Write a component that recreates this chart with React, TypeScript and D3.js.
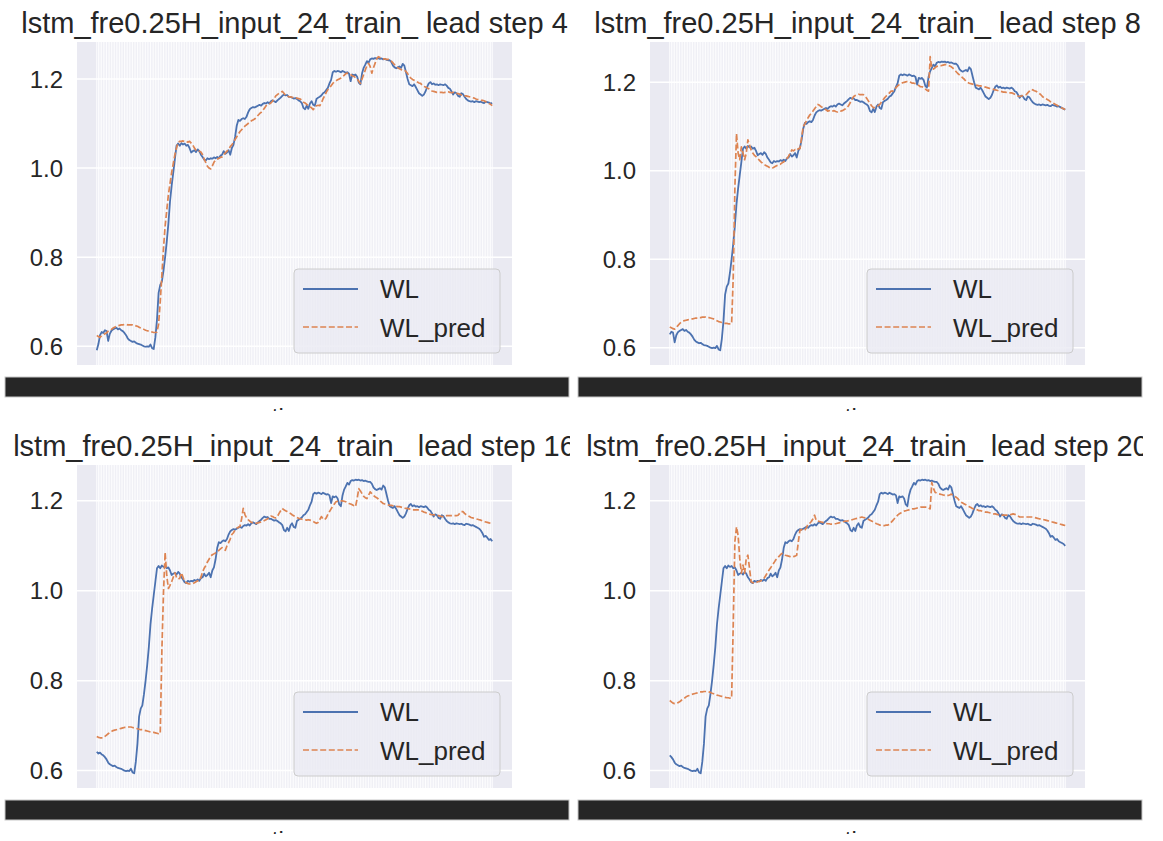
import React from "react";
import * as d3 from "d3";

// ---------------- data ----------------
const N = 244;
const leads = [4, 8, 16, 20];
const yTicks = [0.6, 0.8, 1.0, 1.2];
const titlePrefix = "lstm_fre0.25H_input_24_train_ lead step ";
const legendLabels = ["WL", "WL_pred"];
const xLabel = "time";

// observed water level; panel with lead L shows wlBase[L-4 .. L-4+N-1]
const wlBase = [
  0.591,0.605,0.625,0.632,0.630,0.636,0.634,0.612,0.628,0.635,
  0.638,0.640,0.642,0.638,0.640,0.636,0.634,0.630,0.625,0.618,
  0.614,0.612,0.610,0.611,0.608,0.606,0.605,0.604,0.602,0.600,
  0.599,0.600,0.599,0.604,0.596,0.594,0.620,0.660,0.720,0.738,
  0.745,0.770,0.800,0.835,0.875,0.925,0.960,0.990,1.020,1.050,
  1.055,1.050,1.056,1.053,1.055,1.050,1.052,1.045,1.035,1.038,
  1.040,1.036,1.042,1.038,1.030,1.025,1.019,1.017,1.022,1.020,
  1.022,1.021,1.024,1.022,1.025,1.022,1.028,1.030,1.038,1.032,
  1.035,1.040,1.030,1.045,1.052,1.070,1.095,1.108,1.106,1.110,
  1.112,1.110,1.115,1.125,1.132,1.135,1.137,1.136,1.138,1.140,
  1.142,1.140,1.144,1.146,1.145,1.148,1.145,1.150,1.152,1.150,
  1.148,1.152,1.155,1.158,1.162,1.165,1.163,1.164,1.160,1.160,
  1.158,1.156,1.157,1.155,1.152,1.150,1.146,1.135,1.132,1.140,
  1.133,1.145,1.150,1.142,1.140,1.155,1.158,1.160,1.163,1.168,
  1.170,1.175,1.180,1.190,1.198,1.215,1.218,1.216,1.218,1.217,
  1.215,1.218,1.216,1.214,1.215,1.212,1.195,1.210,1.208,1.210,
  1.205,1.192,1.188,1.212,1.225,1.232,1.240,1.236,1.244,1.246,
  1.245,1.247,1.246,1.247,1.245,1.246,1.244,1.245,1.243,1.242,
  1.242,1.238,1.230,1.226,1.224,1.226,1.228,1.225,1.234,1.230,
  1.215,1.200,1.188,1.186,1.184,1.188,1.182,1.175,1.168,1.165,
  1.162,1.165,1.172,1.182,1.190,1.193,1.188,1.190,1.187,1.188,
  1.186,1.188,1.187,1.186,1.188,1.185,1.180,1.178,1.172,1.165,
  1.170,1.168,1.162,1.160,1.168,1.166,1.160,1.155,1.152,1.150,
  1.149,1.150,1.148,1.150,1.149,1.148,1.149,1.147,1.146,1.149,
  1.148,1.147,1.145,1.146,1.144,1.142,1.140,1.138,1.134,1.128,
  1.120,1.122,1.118,1.113,1.115,1.110,1.108,1.106,1.104,1.100,
];

const predLead4 = [
  0.624,0.622,0.620,0.624,0.626,0.628,0.630,0.634,0.636,0.638,
  0.641,0.643,0.645,0.646,0.647,0.648,0.648,0.649,0.649,0.648,
  0.648,0.648,0.648,0.647,0.646,0.645,0.643,0.641,0.640,0.638,
  0.636,0.635,0.634,0.633,0.632,0.631,0.631,0.632,0.650,0.700,
  0.760,0.820,0.870,0.905,0.940,0.965,0.990,1.010,1.030,1.045,
  1.058,1.060,1.060,1.061,1.059,1.060,1.058,1.060,1.056,1.052,
  1.045,1.040,1.040,1.038,1.036,1.030,1.020,1.012,1.004,1.000,
  0.998,1.005,1.013,1.018,1.020,1.022,1.024,1.025,1.030,1.034,
  1.038,1.042,1.048,1.052,1.058,1.064,1.070,1.076,1.082,1.086,
  1.090,1.094,1.097,1.100,1.103,1.106,1.108,1.110,1.114,1.118,
  1.122,1.125,1.130,1.134,1.140,1.142,1.144,1.146,1.150,1.156,
  1.162,1.165,1.168,1.170,1.172,1.168,1.163,1.162,1.160,1.160,
  1.159,1.158,1.158,1.157,1.156,1.155,1.152,1.148,1.146,1.143,
  1.140,1.138,1.135,1.131,1.136,1.140,1.141,1.140,1.146,1.155,
  1.162,1.170,1.176,1.180,1.185,1.190,1.193,1.196,1.198,1.200,
  1.202,1.205,1.208,1.212,1.213,1.212,1.210,1.207,1.206,1.203,
  1.200,1.195,1.190,1.200,1.210,1.220,1.230,1.235,1.228,1.213,
  1.225,1.235,1.245,1.250,1.248,1.246,1.245,1.245,1.244,1.244,
  1.243,1.240,1.236,1.232,1.228,1.225,1.223,1.221,1.220,1.220,
  1.217,1.212,1.206,1.202,1.199,1.197,1.195,1.193,1.191,1.190,
  1.186,1.183,1.182,1.180,1.178,1.175,1.173,1.172,1.171,1.170,
  1.170,1.170,1.170,1.169,1.170,1.170,1.171,1.170,1.169,1.170,
  1.170,1.168,1.167,1.166,1.164,1.163,1.162,1.162,1.161,1.160,
  1.159,1.158,1.157,1.155,1.154,1.153,1.152,1.152,1.151,1.149,
  1.147,1.145,1.143,1.140,
];

const predLead8 = [
  0.647,0.645,0.643,0.642,0.646,0.650,0.654,0.658,0.660,0.661,
  0.662,0.663,0.664,0.665,0.665,0.666,0.667,0.667,0.668,0.668,
  0.669,0.669,0.669,0.668,0.668,0.667,0.666,0.665,0.663,0.661,
  0.659,0.658,0.657,0.656,0.655,0.655,0.654,0.654,0.654,0.760,
  0.960,1.084,1.040,1.025,1.054,1.040,1.025,1.040,1.070,1.058,
  1.047,1.040,1.035,1.032,1.028,1.024,1.020,1.017,1.014,1.012,
  1.010,1.008,1.006,1.006,1.008,1.010,1.012,1.013,1.015,1.018,
  1.020,1.024,1.028,1.033,1.040,1.047,1.045,1.048,1.046,1.050,
  1.050,1.075,1.100,1.106,1.113,1.120,1.126,1.130,1.135,1.140,
  1.145,1.150,1.148,1.145,1.143,1.140,1.138,1.135,1.136,1.134,
  1.135,1.136,1.134,1.133,1.135,1.135,1.136,1.138,1.140,1.143,
  1.148,1.155,1.162,1.168,1.170,1.172,1.173,1.172,1.172,1.172,
  1.168,1.164,1.158,1.152,1.147,1.143,1.143,1.145,1.147,1.150,
  1.155,1.160,1.165,1.169,1.172,1.176,1.180,1.180,1.184,1.188,
  1.192,1.195,1.197,1.199,1.200,1.201,1.202,1.202,1.200,1.198,
  1.198,1.197,1.195,1.193,1.190,1.190,1.188,1.185,1.182,1.180,
  1.258,1.232,1.230,1.233,1.236,1.237,1.238,1.238,1.239,1.240,
  1.240,1.239,1.237,1.235,1.232,1.228,1.224,1.220,1.217,1.214,
  1.210,1.207,1.202,1.200,1.198,1.197,1.196,1.195,1.194,1.193,
  1.192,1.192,1.191,1.190,1.189,1.188,1.187,1.186,1.185,1.184,
  1.183,1.182,1.181,1.180,1.179,1.178,1.178,1.177,1.176,1.176,
  1.176,1.175,1.173,1.171,1.169,1.168,1.169,1.170,1.171,1.172,
  1.176,1.180,1.184,1.183,1.181,1.180,1.178,1.175,1.172,1.168,
  1.165,1.163,1.161,1.159,1.156,1.154,1.152,1.150,1.148,1.146,
  1.144,1.142,1.140,1.139,
];

const predLead16 = [
  0.676,0.674,0.673,0.673,0.673,0.676,0.679,0.682,0.685,0.687,
  0.689,0.690,0.691,0.692,0.693,0.694,0.695,0.696,0.696,0.697,
  0.697,0.697,0.696,0.695,0.694,0.693,0.692,0.691,0.691,0.690,
  0.689,0.688,0.687,0.686,0.685,0.685,0.684,0.683,0.682,0.682,
  0.866,0.997,1.085,1.034,1.005,1.012,1.020,1.030,1.040,1.030,
  1.026,1.028,1.040,1.030,1.020,1.018,1.016,1.015,1.016,1.016,
  1.018,1.020,1.022,1.023,1.030,1.042,1.050,1.056,1.064,1.070,
  1.077,1.080,1.082,1.084,1.085,1.090,1.093,1.096,1.093,1.090,
  1.100,1.107,1.115,1.125,1.129,1.135,1.139,1.141,1.143,1.160,
  1.183,1.170,1.162,1.158,1.155,1.152,1.151,1.150,1.150,1.151,
  1.152,1.153,1.154,1.156,1.158,1.160,1.164,1.166,1.165,1.163,
  1.162,1.165,1.172,1.178,1.183,1.180,1.178,1.176,1.174,1.172,
  1.169,1.167,1.165,1.163,1.161,1.160,1.159,1.158,1.158,1.157,
  1.158,1.157,1.156,1.154,1.152,1.150,1.152,1.158,1.165,1.160,
  1.158,1.162,1.170,1.176,1.182,1.188,1.193,1.198,1.199,1.200,
  1.200,1.200,1.199,1.198,1.196,1.194,1.193,1.191,1.189,1.187,
  1.205,1.227,1.222,1.216,1.210,1.207,1.205,1.212,1.220,1.216,
  1.212,1.209,1.207,1.204,1.200,1.197,1.194,1.193,1.192,1.191,
  1.190,1.190,1.189,1.189,1.188,1.187,1.187,1.186,1.185,1.184,
  1.183,1.183,1.182,1.181,1.180,1.180,1.180,1.180,1.180,1.179,
  1.177,1.175,1.174,1.172,1.171,1.170,1.169,1.169,1.168,1.168,
  1.167,1.166,1.165,1.165,1.166,1.167,1.167,1.167,1.167,1.167,
  1.167,1.167,1.168,1.172,1.176,1.176,1.172,1.169,1.167,1.165,
  1.163,1.162,1.161,1.160,1.159,1.158,1.157,1.155,1.154,1.153,
  1.152,1.151,1.150,1.150,
];

const predLead20 = [
  0.756,0.753,0.750,0.749,0.749,0.751,0.753,0.756,0.759,0.761,
  0.764,0.766,0.767,0.768,0.770,0.771,0.772,0.773,0.774,0.775,
  0.775,0.776,0.776,0.776,0.775,0.774,0.772,0.771,0.770,0.768,
  0.767,0.766,0.765,0.764,0.763,0.762,0.762,0.761,0.761,0.925,
  1.109,1.142,1.123,1.072,1.039,1.057,1.039,1.072,1.079,1.050,
  1.020,1.018,1.017,1.018,1.020,1.021,1.022,1.024,1.028,1.034,
  1.040,1.046,1.051,1.057,1.062,1.068,1.072,1.076,1.080,1.083,
  1.081,1.079,1.078,1.077,1.076,1.075,1.076,1.077,1.079,1.109,
  1.135,1.136,1.134,1.135,1.140,1.149,1.150,1.154,1.160,1.168,
  1.156,1.155,1.154,1.153,1.152,1.151,1.150,1.149,1.149,1.148,
  1.148,1.149,1.149,1.150,1.151,1.152,1.153,1.154,1.155,1.155,
  1.156,1.157,1.158,1.159,1.160,1.161,1.162,1.163,1.164,1.163,
  1.162,1.160,1.159,1.157,1.155,1.153,1.151,1.149,1.148,1.146,
  1.146,1.145,1.145,1.146,1.146,1.148,1.152,1.156,1.160,1.164,
  1.168,1.171,1.173,1.175,1.177,1.178,1.179,1.180,1.181,1.182,
  1.182,1.183,1.184,1.185,1.186,1.186,1.186,1.186,1.186,1.184,
  1.182,1.241,1.228,1.219,1.217,1.216,1.215,1.214,1.213,1.212,
  1.211,1.212,1.213,1.215,1.212,1.210,1.208,1.205,1.200,1.197,
  1.195,1.193,1.191,1.189,1.187,1.185,1.183,1.182,1.181,1.180,
  1.178,1.178,1.177,1.176,1.175,1.175,1.174,1.173,1.172,1.171,
  1.171,1.170,1.169,1.168,1.168,1.168,1.168,1.168,1.168,1.169,
  1.170,1.171,1.170,1.168,1.166,1.164,1.164,1.164,1.164,1.164,
  1.164,1.164,1.164,1.164,1.163,1.162,1.161,1.160,1.160,1.159,
  1.158,1.157,1.156,1.155,1.154,1.153,1.152,1.151,1.150,1.149,
  1.148,1.147,1.146,1.145,
];

const predByLead: Record<number, number[]> = {
  4: predLead4,
  8: predLead8,
  16: predLead16,
  20: predLead20,
};

// ---------------- layout / style ----------------
const W = 1163;
const H = 841;
const PANEL_DX = 573;
const PANEL_DY = 423;
const AX = { l: 77, r: 512, t: 42, b: 365 };
const BG = "#EAEAF2";
const TEXT = "#262626";
const BLUE = "#4C72B0";
const ORANGE = "#DD8452";
const FONT = "'Liberation Sans', Arial, Helvetica, sans-serif";

function Panel({ lead, idx }: { lead: number; idx: number }) {
  const ox = (idx % 2) * PANEL_DX;
  const oy = Math.floor(idx / 2) * PANEL_DY;
  const off = lead - leads[0];
  const wl = wlBase.slice(off, off + N);
  const pred = predByLead[lead];

  const xPad = ((AX.r - AX.l) * 0.05) / 1.1;
  const x = d3.scaleLinear().domain([0, N - 1]).range([AX.l + xPad, AX.r - xPad]);
  const ext = d3.extent([...wl, ...pred]) as [number, number];
  const r = ext[1] - ext[0];
  const y = d3
    .scaleLinear()
    .domain([ext[0] - 0.05 * r, ext[1] + 0.05 * r])
    .range([AX.b, AX.t]);

  const line = d3
    .line<number>()
    .x((_, i) => x(i))
    .y((d) => y(d));

  const clipId = `clip-${idx}`;
  const cx = (AX.l + AX.r) / 2;

  return (
    <g transform={`translate(${ox},${oy})`}>
      <defs>
        <clipPath id={clipId}>
          <rect x={0} y={0} width={570} height={411} />
        </clipPath>
      </defs>
      <g clipPath={`url(#${clipId})`}>
        {/* title */}
        <text
          x={cx}
          y={33}
          textAnchor="middle"
          fontSize={29}
          fill={TEXT}
          fontFamily={FONT}
        >
          {titlePrefix + lead}
        </text>
        {/* axes background */}
        <rect x={AX.l} y={AX.t} width={AX.r - AX.l} height={AX.b - AX.t} fill={BG} />
        {/* vertical grid at each x tick */}
        {d3.range(N).map((i) => (
          <line
            key={"v" + i}
            x1={x(i)}
            x2={x(i)}
            y1={AX.t}
            y2={AX.b}
            stroke="#ffffff"
            strokeWidth={0.9}
          />
        ))}
        {/* horizontal grid */}
        {yTicks.map((t) => (
          <line
            key={"h" + t}
            x1={AX.l}
            x2={AX.r}
            y1={y(t)}
            y2={y(t)}
            stroke="#ffffff"
            strokeWidth={1.5}
          />
        ))}
        {/* y tick labels */}
        {yTicks.map((t) => (
          <text
            key={"yt" + t}
            x={AX.l - 14}
            y={y(t)}
            dy="0.36em"
            textAnchor="end"
            fontSize={24}
            fill={TEXT}
            fontFamily={FONT}
          >
            {t.toFixed(1)}
          </text>
        ))}
        {/* series */}
        <path d={line(wl) || ""} fill="none" stroke={BLUE} strokeWidth={1.8} strokeLinejoin="round" />
        <path
          d={line(pred) || ""}
          fill="none"
          stroke={ORANGE}
          strokeWidth={1.7}
          strokeDasharray="6,2.6"
          strokeLinejoin="round"
        />
        {/* legend */}
        <rect
          x={294}
          y={269}
          width={206}
          height={84}
          rx={4}
          ry={4}
          fill={BG}
          fillOpacity={0.8}
          stroke="#cccccc"
          strokeWidth={1}
        />
        <line x1={303} x2={358} y1={289} y2={289} stroke={BLUE} strokeWidth={1.8} />
        <line
          x1={303}
          x2={358}
          y1={327}
          y2={327}
          stroke={ORANGE}
          strokeWidth={1.7}
          strokeDasharray="6,2.6"
        />
        <text x={380} y={298} fontSize={26} fill={TEXT} fontFamily={FONT}>
          {legendLabels[0]}
        </text>
        <text x={380} y={337} fontSize={26} fill={TEXT} fontFamily={FONT}>
          {legendLabels[1]}
        </text>
        {/* masked x tick labels band */}
        <rect x={5} y={377} width={564} height={20} fill={TEXT} stroke="#c8c8c8" strokeWidth={1} />
        {/* x label (cut off at the panel's lower edge) */}
        <text x={cx} y={425} textAnchor="middle" fontSize={24} fill={TEXT} fontFamily={FONT}>
          {xLabel}
        </text>
      </g>
    </g>
  );
}

export default function App() {
  return (
    <svg
      width={W}
      height={H}
      viewBox={`0 0 ${W} ${H}`}
      style={{ position: "absolute", left: 0, top: 0, background: "#ffffff" }}
    >
      <rect x={0} y={0} width={W} height={H} fill="#ffffff" />
      {leads.map((l, i) => (
        <Panel key={l} lead={l} idx={i} />
      ))}
    </svg>
  );
}
